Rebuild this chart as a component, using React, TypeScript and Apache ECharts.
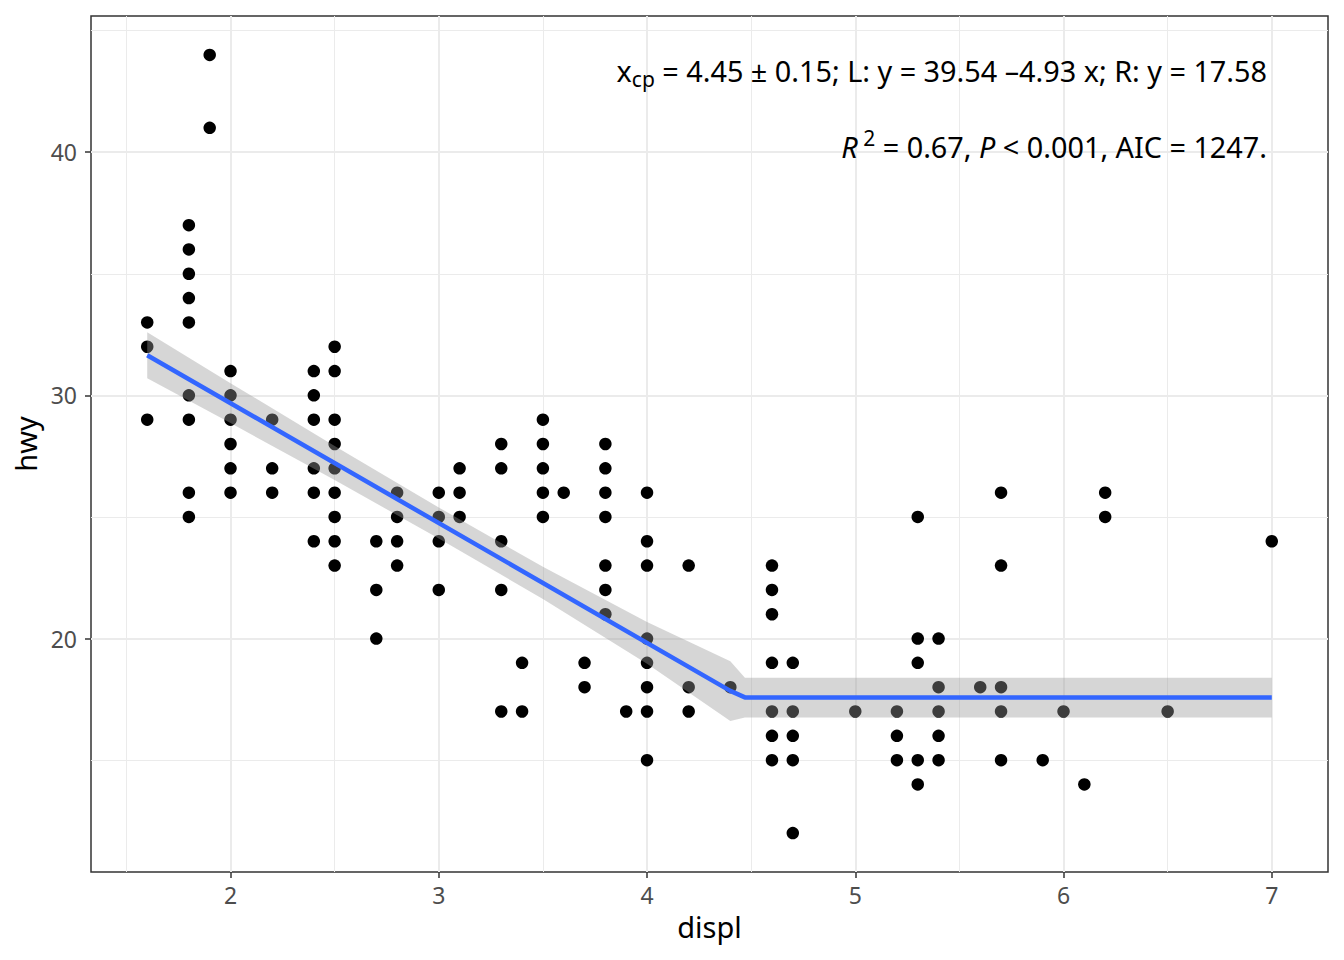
import React, { useEffect, useRef } from "react";
import * as echarts from "echarts";

// ---- data ----
const displValues = [1.6, 1.8, 1.9, 2.0, 2.2, 2.4, 2.5, 2.7, 2.8, 3.0, 3.1, 3.3, 3.4, 3.5, 3.6, 3.7, 3.8, 3.9, 4.0, 4.2, 4.4, 4.6, 4.7, 5.0, 5.2, 5.3, 5.4, 5.6, 5.7, 5.9, 6.0, 6.1, 6.2, 6.5, 7.0];
const hwyByDispl = [
  [33, 32, 29],
  [37, 36, 35, 34, 33, 30, 29, 26, 25],
  [44, 41],
  [31, 30, 29, 28, 27, 26],
  [29, 27, 26],
  [31, 30, 29, 27, 26, 24],
  [32, 31, 29, 28, 27, 26, 25, 24, 23],
  [24, 22, 20],
  [26, 25, 24, 23],
  [26, 25, 24, 22],
  [27, 26, 25],
  [28, 27, 24, 22, 17],
  [19, 17],
  [29, 28, 27, 26, 25],
  [26],
  [19, 18],
  [28, 27, 26, 25, 23, 22, 21],
  [17],
  [26, 24, 23, 20, 19, 18, 17, 15],
  [23, 18, 17],
  [18],
  [23, 22, 21, 19, 17, 16, 15],
  [19, 17, 16, 15, 12],
  [17],
  [17, 16, 15],
  [25, 20, 19, 15, 14],
  [20, 18, 17, 16, 15],
  [18],
  [26, 23, 18, 17, 15],
  [15],
  [17],
  [14],
  [26, 25],
  [17],
  [24],
];

const fitX = [1.6, 4.4, 4.47, 7.0];
const fitY = [31.65, 17.85, 17.58, 17.58];

const bandX = [1.6, 2.0, 2.5, 3.0, 3.5, 4.0, 4.4, 4.47, 7.0];
const bandLower = [30.7, 28.86, 26.52, 24.11, 21.63, 18.96, 16.61, 16.75, 16.75];
const bandUpper = [32.6, 30.5, 27.92, 25.39, 22.95, 20.68, 19.07, 18.39, 18.39];

const xMajorTicks = [2, 3, 4, 5, 6, 7];
const xMinorTicks = [1.5, 2.5, 3.5, 4.5, 5.5, 6.5];
const yMajorTicks = [20, 30, 40];
const yMinorTicks = [15, 25, 35, 45];

const xRange = [1.33, 7.27];
const yRange = [10.4, 45.6];

const FONT = "'Noto Sans', 'DejaVu Sans', sans-serif";
const TITLE_SIZE = 29;
const TICK_SIZE = 23;
const NOTE_SIZE = 28.8;
const SMALL_SIZE = 21;

export default function App() {
  const ref = useRef<HTMLDivElement>(null);

  useEffect(() => {
    document.body.style.margin = "0";
    if (!ref.current) return;
    const chart = echarts.init(ref.current, null, { renderer: "svg" });

    const points: number[][] = [];
    displValues.forEach((d, i) => {
      hwyByDispl[i].forEach((h) => points.push([d, h]));
    });
    const bandData = bandX.map((x, i) => [x, bandLower[i], bandUpper[i]]);
    const fitData = fitX.map((x, i) => [x, fitY[i]]);

    const hiddenAxisParts = {
      axisLine: { show: false },
      axisLabel: { show: false },
    };

    const option: any = {
      animation: false,
      backgroundColor: "#ffffff",
      grid: {
        left: 91,
        right: 16,
        top: 16,
        bottom: 88,
        show: true,
        borderColor: "#333333",
        borderWidth: 1.5,
        backgroundColor: "#ffffff",
      },
      xAxis: [
        {
          type: "value",
          min: xRange[0],
          max: xRange[1],
          position: "bottom",
          name: "displ",
          nameLocation: "middle",
          nameGap: 40,
          nameTextStyle: { fontSize: TITLE_SIZE, color: "#000000", fontFamily: FONT },
          axisLine: { show: false },
          axisTick: {
            show: true,
            customValues: xMajorTicks,
            length: 6,
            lineStyle: { color: "#333333", width: 1.5 },
          },
          axisLabel: {
            customValues: xMajorTicks,
            fontSize: TICK_SIZE,
            color: "#4D4D4D",
            margin: 11,
            fontFamily: FONT,
          },
          splitLine: { show: true, lineStyle: { color: "#EBEBEB", width: 2 } },
        },
        {
          type: "value",
          min: xRange[0],
          max: xRange[1],
          position: "bottom",
          ...hiddenAxisParts,
          axisTick: { show: false, customValues: xMinorTicks },
          splitLine: { show: true, lineStyle: { color: "#EBEBEB", width: 1 } },
        },
      ],
      yAxis: [
        {
          type: "value",
          min: yRange[0],
          max: yRange[1],
          position: "left",
          name: "hwy",
          nameLocation: "middle",
          nameGap: 51,
          nameRotate: 90,
          nameTextStyle: { fontSize: TITLE_SIZE, color: "#000000", fontFamily: FONT },
          axisLine: { show: false },
          axisTick: {
            show: true,
            customValues: yMajorTicks,
            length: 6,
            lineStyle: { color: "#333333", width: 1.5 },
          },
          axisLabel: {
            customValues: yMajorTicks,
            fontSize: TICK_SIZE,
            color: "#4D4D4D",
            margin: 14,
            fontFamily: FONT,
          },
          splitLine: { show: true, lineStyle: { color: "#EBEBEB", width: 2 } },
        },
        {
          type: "value",
          min: yRange[0],
          max: yRange[1],
          position: "left",
          ...hiddenAxisParts,
          axisTick: { show: false, customValues: yMinorTicks },
          splitLine: { show: true, lineStyle: { color: "#EBEBEB", width: 1 } },
        },
      ],
      series: [
        {
          type: "scatter",
          xAxisIndex: 0,
          yAxisIndex: 0,
          data: points,
          symbol: "circle",
          symbolSize: 12.5,
          itemStyle: { color: "#000000", opacity: 1 },
          z: 2,
          silent: true,
        },
        {
          type: "custom",
          xAxisIndex: 0,
          yAxisIndex: 0,
          data: bandData,
          encode: { x: 0, y: [1, 2] },
          z: 3,
          silent: true,
          clip: true,
          renderItem: (params: any, api: any) => {
            if (params.dataIndex !== 0) return null;
            const pts: number[][] = [];
            for (let i = 0; i < bandData.length; i++) {
              pts.push(api.coord([bandData[i][0], bandData[i][2]]));
            }
            for (let i = bandData.length - 1; i >= 0; i--) {
              pts.push(api.coord([bandData[i][0], bandData[i][1]]));
            }
            return {
              type: "polygon",
              shape: { points: pts },
              style: { fill: "rgba(153,153,153,0.4)", stroke: "none" },
            };
          },
        },
        {
          type: "line",
          xAxisIndex: 0,
          yAxisIndex: 0,
          data: fitData,
          showSymbol: false,
          symbol: "none",
          lineStyle: { color: "#3366FF", width: 4.5 },
          z: 4,
          silent: true,
        },
      ],
      graphic: [
        {
          type: "text",
          x: 1267,
          y: 70,
          z: 10,
          style: {
            text: "{n|x}{sub|cp}{n| = 4.45 ± 0.15; L: y = 39.54 –4.93 x; R: y = 17.58}",
            align: "right",
            verticalAlign: "middle",
            fill: "#000000",
            fontFamily: FONT,
            fontSize: NOTE_SIZE,
            rich: {
              n: { fontSize: NOTE_SIZE, lineHeight: 38, fontFamily: FONT, fill: "#000000" },
              sub: { fontSize: SMALL_SIZE, lineHeight: 20, verticalAlign: "bottom", fontFamily: FONT, fill: "#000000" },
            },
          },
        },
        {
          type: "text",
          x: 1267,
          y: 146,
          z: 10,
          style: {
            text: "{it|R}{sup| 2}{n| = 0.67, }{it|P}{n| < 0.001, AIC = 1247.}",
            align: "right",
            verticalAlign: "middle",
            fill: "#000000",
            fontFamily: FONT,
            fontSize: NOTE_SIZE,
            rich: {
              n: { fontSize: NOTE_SIZE, lineHeight: 38, fontFamily: FONT, fill: "#000000" },
              it: { fontSize: NOTE_SIZE, lineHeight: 38, fontStyle: "italic", fontFamily: FONT, fill: "#000000" },
              sup: { fontSize: SMALL_SIZE, lineHeight: 20, verticalAlign: "top", fontFamily: FONT, fill: "#000000" },
            },
          },
        },
      ],
    };

    chart.setOption(option);
    return () => chart.dispose();
  }, []);

  return <div ref={ref} style={{ width: 1344, height: 960 }} />;
}
